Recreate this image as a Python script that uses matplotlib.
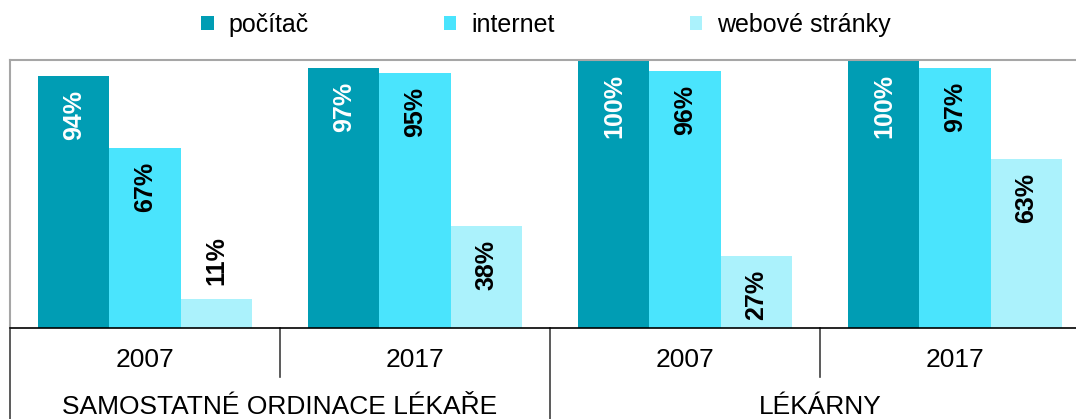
import numpy as np
import matplotlib
matplotlib.use("Agg")
import matplotlib.pyplot as plt
from matplotlib.patches import Patch

# data
groups = ["SAMOSTATNÉ ORDINACE LÉKAŘE", "LÉKÁRNY"]
years = ["2007", "2017", "2007", "2017"]
series = ["počítač", "internet", "webové stránky"]
pocitac = [0.94, 0.97, 1.00, 1.00]
internet = [0.67, 0.95, 0.96, 0.97]
weby = [0.11, 0.38, 0.27, 0.63]

colors = ["#009DB4", "#4AE4FD", "#ABF2FC"]
label_colors = ["white", "black", "black"]

plt.rcParams["font.family"] = ["Liberation Sans", "DejaVu Sans"]
plt.rcParams["font.size"] = 18

W, H = 1076, 419
fig = plt.figure(figsize=(W / 100, H / 100), dpi=100)
# plot area runs past the right edge like in the original
ax = fig.add_axes([10 / W, 1 - 328 / H, 1080 / W, 268 / H])

x = np.arange(len(years))
bw = 0.263
values = [pocitac, internet, weby]
for i, vals in enumerate(values):
    pos = x + (i - 1) * bw
    ax.bar(pos, vals, width=bw, color=colors[i], edgecolor="none", zorder=2)
    for xp, v in zip(pos, vals):
        txt = f"{v * 100:.0f}%"
        if v < 0.2:
            # label doesn't fit into the bar -> put it above
            ax.annotate(txt, (xp, v), xytext=(0, 10), textcoords="offset points",
                        rotation=90, ha="center", va="bottom",
                        fontweight="bold", color="black")
        else:
            ax.annotate(txt, (xp, v), xytext=(0, -10), textcoords="offset points",
                        rotation=90, ha="center", va="top",
                        fontweight="bold", color=label_colors[i])

ax.set_xlim(-0.5, len(years) - 0.5)
ax.set_ylim(0, 1.0)
ax.set_xticks([])
ax.set_yticks([])
for s in ["top", "left", "right"]:
    ax.spines[s].set_color("#A6A6A6")
    ax.spines[s].set_linewidth(1.5)
ax.spines["bottom"].set_color("black")
ax.spines["bottom"].set_linewidth(1.2)

# two-level category axis
tr = ax.get_xaxis_transform()
for k in range(len(years) + 1):
    b = k - 0.5
    low = -0.34 if k % 2 == 0 else -0.183
    ax.plot([b, b], [0, low], transform=tr, color="#404040", lw=1.2,
            clip_on=False)
for k, yr in enumerate(years):
    ax.text(k, -0.12, yr, transform=tr, ha="center", va="center", fontsize=19)
for g, name in enumerate(groups):
    ax.text(2 * g + 0.5, -0.295, name, transform=tr, ha="center", va="center",
            fontsize=19)

handles = [Patch(facecolor=c, edgecolor="none") for c in colors]
fig.legend(handles, series, loc="center", bbox_to_anchor=(546 / W, 1 - 25 / H),
           ncol=3, frameon=False, handlelength=0.5, handleheight=0.5,
           handletextpad=0.6, columnspacing=5.4)

fig.savefig("out.png", dpi=100)
